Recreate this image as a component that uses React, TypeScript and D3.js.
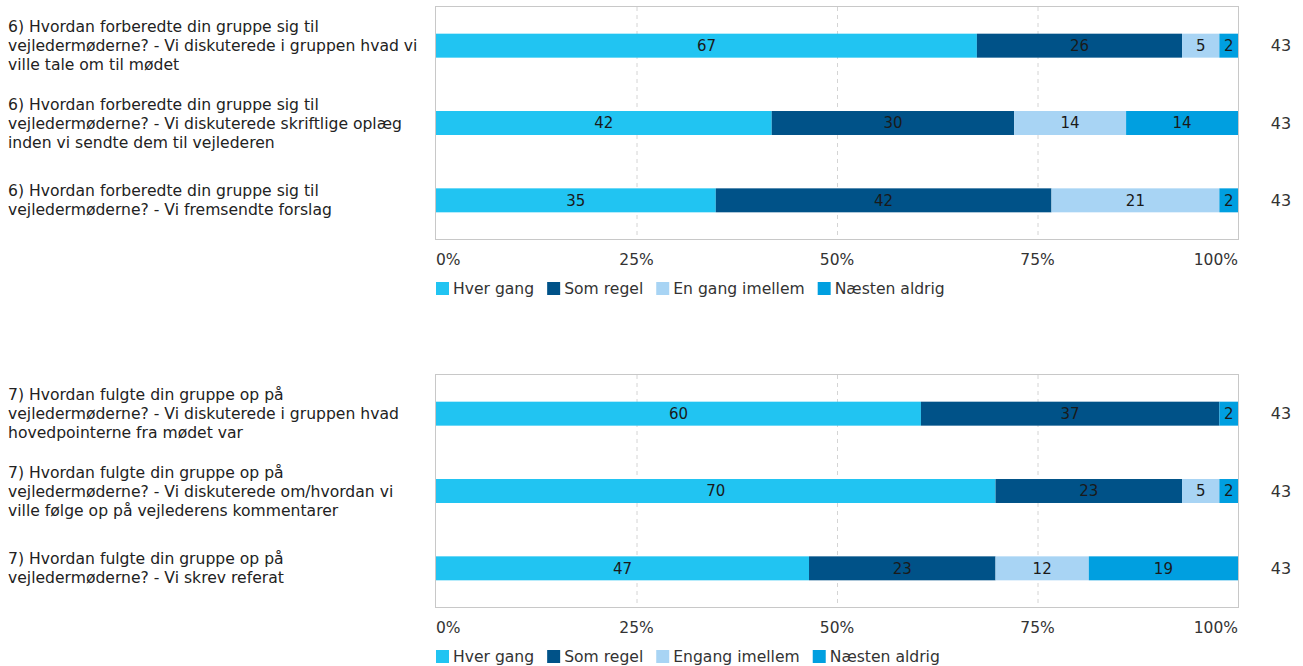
import React, { useEffect, useRef } from 'react';
import * as d3 from 'd3';

const colors = ['#21c4f2', '#005288', '#a8d4f4', '#009fe0'];

const seriesTop = ['Hver gang', 'Som regel', 'En gang imellem', 'Næsten aldrig'];
const questionsTop = [
  '6) Hvordan forberedte din gruppe sig til vejledermøderne? - Vi diskuterede i gruppen hvad vi ville tale om til mødet',
  '6) Hvordan forberedte din gruppe sig til vejledermøderne? - Vi diskuterede skriftlige oplæg inden vi sendte dem til vejlederen',
  '6) Hvordan forberedte din gruppe sig til vejledermøderne? - Vi fremsendte forslag',
];
// answer counts per question, in series order
const countsTop = [
  [29, 11, 2, 1],
  [18, 13, 6, 6],
  [15, 18, 9, 1],
];

const seriesBottom = ['Hver gang', 'Som regel', 'Engang imellem', 'Næsten aldrig'];
const questionsBottom = [
  '7) Hvordan fulgte din gruppe op på vejledermøderne? - Vi diskuterede i gruppen hvad hovedpointerne fra mødet var',
  '7) Hvordan fulgte din gruppe op på vejledermøderne? - Vi diskuterede om/hvordan vi ville følge op på vejlederens kommentarer',
  '7) Hvordan fulgte din gruppe op på vejledermøderne? - Vi skrev referat',
];
const countsBottom = [
  [26, 16, 0, 1],
  [30, 10, 2, 1],
  [20, 10, 5, 8],
];

const tickValues = [0, 25, 50, 75, 100];

const FONT = '"DejaVu Sans", Verdana, sans-serif';
const LABEL_SIZE = 15.6;

function drawPanel(svg, top, questions, counts, series) {
  const left = 436;
  const right = 1238;
  const height = 232;

  const x = d3.scaleLinear().domain([0, 100]).range([left, right]);
  const y = d3
    .scaleBand()
    .domain(questions)
    .range([top, top + height])
    .paddingInner(0.69)
    .paddingOuter(0.345);

  const g = svg.append('g');

  // grid lines
  g.selectAll('.grid')
    .data(tickValues.slice(1, -1))
    .enter()
    .append('line')
    .attr('x1', (d) => x(d) + 0.5)
    .attr('x2', (d) => x(d) + 0.5)
    .attr('y1', top)
    .attr('y2', top + height)
    .attr('stroke', '#d4d4d4')
    .attr('stroke-dasharray', '4,4');

  const rows = questions.map((q, i) => {
    const total = d3.sum(counts[i]);
    let acc = 0;
    const segs = counts[i].map((c, j) => {
      const s = { q, j, start: (acc / total) * 100, end: ((acc + c) / total) * 100, pct: Math.round((c / total) * 100) };
      acc += c;
      return s;
    });
    return { q, total, segs: segs.filter((s) => s.end > s.start) };
  });

  const row = g.selectAll('.row').data(rows).enter().append('g');

  row
    .selectAll('rect')
    .data((d) => d.segs)
    .enter()
    .append('rect')
    .attr('x', (d) => x(d.start))
    .attr('width', (d) => x(d.end) - x(d.start))
    .attr('y', (d) => y(d.q))
    .attr('height', y.bandwidth())
    .attr('fill', (d) => colors[d.j]);

  row
    .selectAll('.value')
    .data((d) => d.segs)
    .enter()
    .append('text')
    .attr('x', (d) => (x(d.start) + x(d.end)) / 2)
    .attr('y', (d) => y(d.q) + y.bandwidth() / 2)
    .attr('dy', '.36em')
    .attr('text-anchor', 'middle')
    .attr('font-size', 15)
    .attr('fill', '#1a1a1a')
    .text((d) => d.pct);

  // totals on the right
  row
    .append('text')
    .attr('x', 1281)
    .attr('y', (d) => y(d.q) + y.bandwidth() / 2)
    .attr('dy', '.36em')
    .attr('text-anchor', 'middle')
    .attr('font-size', 16)
    .attr('fill', '#333')
    .text((d) => d.total);

  // frame
  g.append('rect')
    .attr('x', left - 0.5)
    .attr('y', top - 0.5)
    .attr('width', right - left + 1)
    .attr('height', height + 1)
    .attr('fill', 'none')
    .attr('stroke', '#c8c8c8');

  // category labels, wrapped
  row.each(function (d) {
    const words = d.q.split(' ');
    const lines = [];
    let line = '';
    const probe = svg.append('text').attr('font-size', LABEL_SIZE);
    words.forEach((w) => {
      const test = line ? line + ' ' + w : w;
      probe.text(test);
      if (probe.node().getComputedTextLength() > 414 && line) {
        lines.push(line);
        line = w;
      } else {
        line = test;
      }
    });
    lines.push(line);
    probe.remove();
    const cy = y(d.q) + y.bandwidth() / 2;
    const lh = 19;
    const t = d3
      .select(this)
      .append('text')
      .attr('font-size', LABEL_SIZE)
      .attr('fill', '#222');
    lines.forEach((l, i) => {
      t.append('tspan')
        .attr('x', 8)
        .attr('y', cy + (i - (lines.length - 1) / 2) * lh)
        .attr('dy', '.36em')
        .text(l);
    });
  });

  // x axis tick labels
  g.selectAll('.tick')
    .data(tickValues)
    .enter()
    .append('text')
    .attr('x', (d) => x(d))
    .attr('y', top + height + 26)
    .attr('text-anchor', (d, i) => (i === 0 ? 'start' : i === tickValues.length - 1 ? 'end' : 'middle'))
    .attr('font-size', 15.5)
    .attr('fill', '#333')
    .text((d) => `${d}%`);

  // legend
  let lx = left;
  const ly = top + height + 43;
  series.forEach((s, i) => {
    g.append('rect')
      .attr('x', lx)
      .attr('y', ly)
      .attr('width', 13)
      .attr('height', 13)
      .attr('fill', colors[i]);
    const t = g
      .append('text')
      .attr('x', lx + 17)
      .attr('y', ly + 6.5)
      .attr('dy', '.36em')
      .attr('font-size', 15.6)
      .attr('fill', '#333')
      .text(s);
    lx += 17 + t.node().getComputedTextLength() + 13;
  });
}

function App() {
  const ref = useRef(null);

  useEffect(() => {
    const svg = d3.select(ref.current);
    svg.selectAll('*').remove();
    drawPanel(svg, 7, questionsTop, countsTop, seriesTop);
    drawPanel(svg, 375, questionsBottom, countsBottom, seriesBottom);
  }, []);

  return (
    <svg
      ref={ref}
      width={1303}
      height={666}
      style={{ position: 'absolute', left: 0, top: 0, fontFamily: FONT, background: '#fff' }}
    />
  );
}

export default App;
